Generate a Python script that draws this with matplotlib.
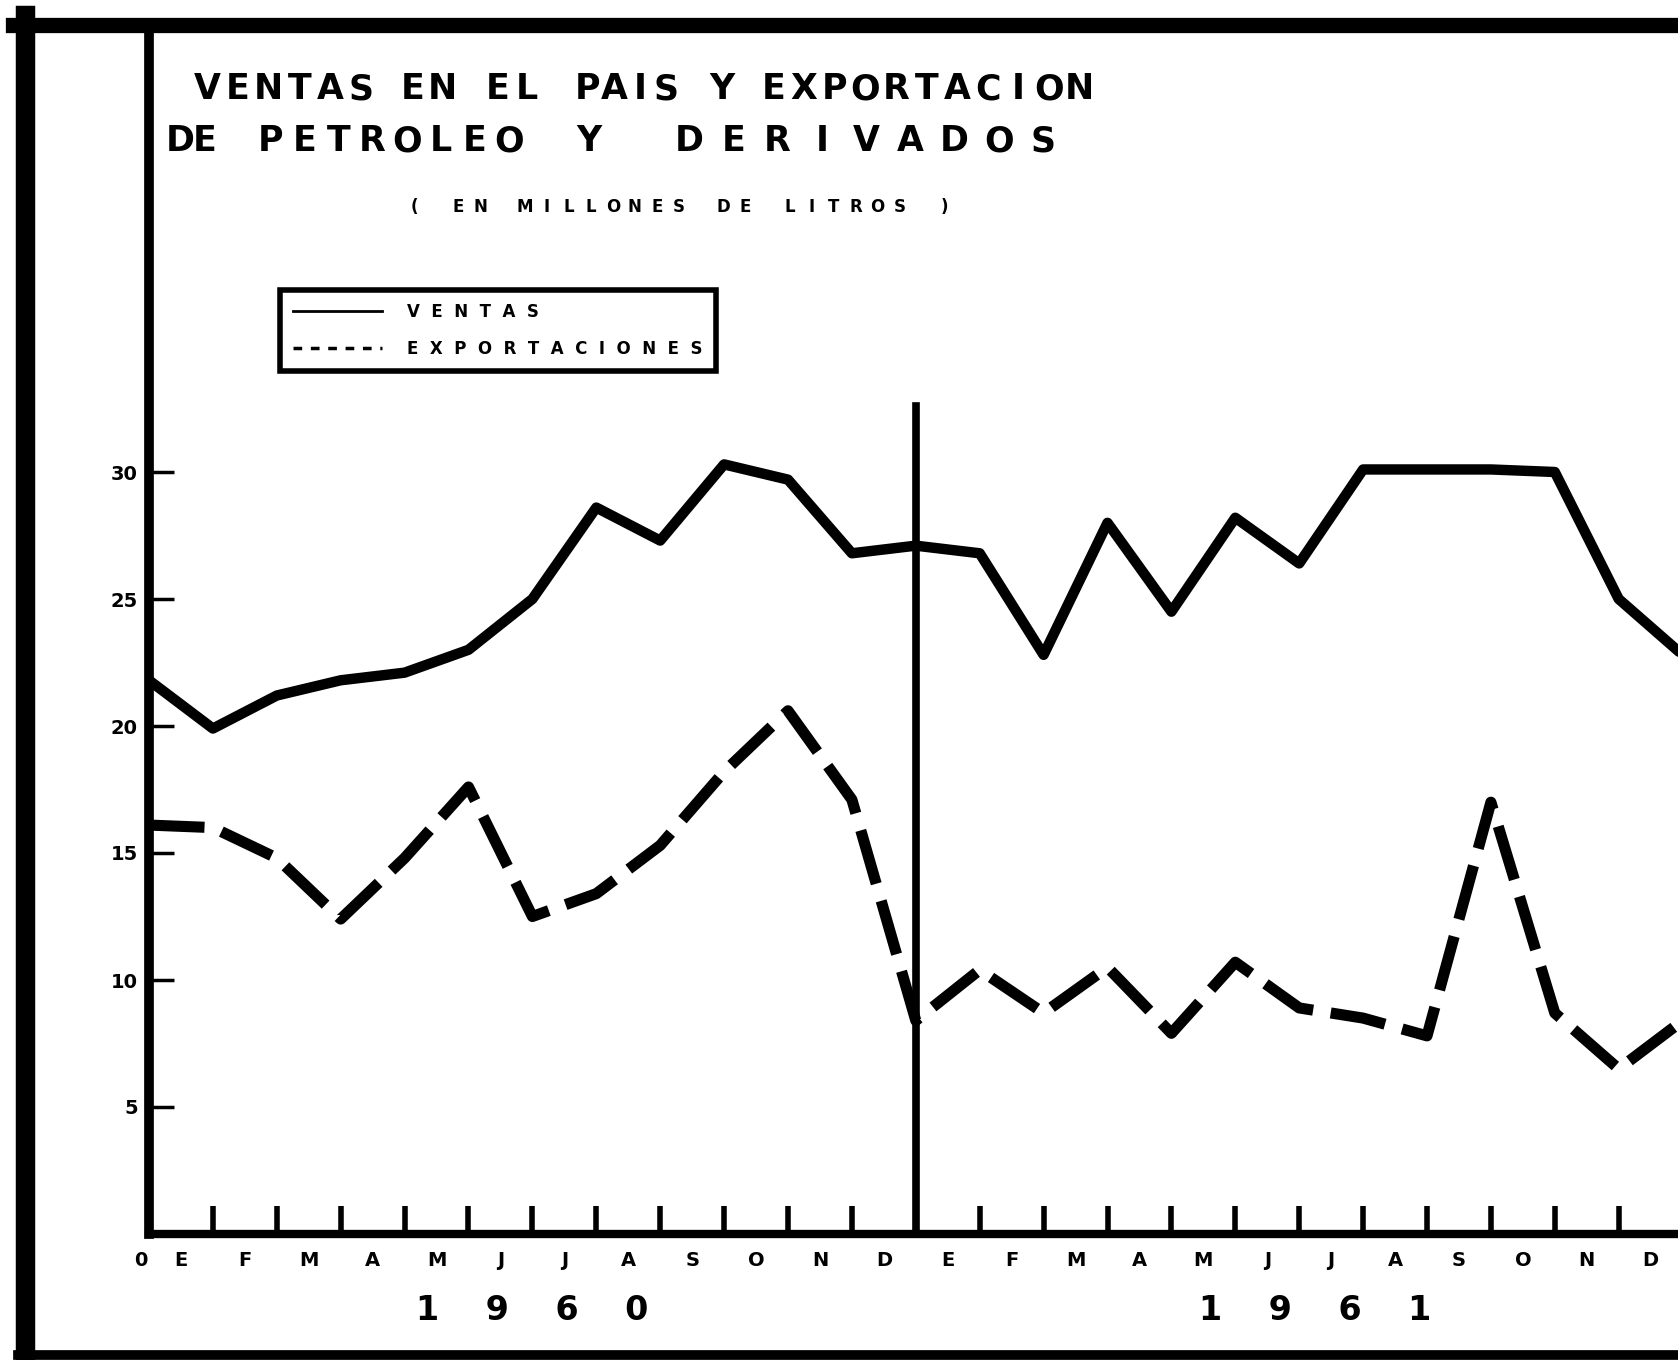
# ===============================
# Ventas en el pais y exportacion de petroleo y derivados (1960-1961)
# ===============================
import matplotlib
matplotlib.use("Agg")
import matplotlib.pyplot as plt
from matplotlib.lines import Line2D


# ===============================
# Datos (millones de litros)
# ===============================
meses = ["E", "F", "M", "A", "M", "J", "J", "A", "S", "O", "N", "D"]
anios = ["1960", "1961"]

ventas = [21.8, 19.9, 21.2, 21.8, 22.1, 23.0, 25.0, 28.6, 27.3, 30.3, 29.7, 26.8,
          27.1, 26.8, 22.8, 28.0, 24.5, 28.2, 26.4, 30.1, 30.1, 30.1, 30.0, 25.0, 22.8]
exportaciones = [16.1, 16.0, 14.8, 12.4, 14.8, 17.6, 12.5, 13.4, 15.3, 18.2, 20.6, 17.1,
                 8.4, 10.4, 8.7, 10.5, 7.9, 10.7, 8.9, 8.5, 7.8, 17.0, 8.7, 6.5, 8.4]

y_ticks = [5, 10, 15, 20, 25, 30]
division = 12          # comienzo de 1961
division_top = 32.6    # altura de la linea divisoria
centro_anio = [6.0, 18.25]


# ===============================
# Figura y ejes (coordenadas en pixeles de la imagen)
# ===============================
W, H = 1678, 1360
fig = plt.figure(figsize=(W / 100, H / 100), dpi=100)

x0_px, base_px, top_px = 149, 1234, 32
px_mes, px_unidad = 63.9, 25.4
n = len(ventas)

ax = fig.add_axes([x0_px / W, (H - base_px) / H,
                   (n - 1) * px_mes / W, (base_px - top_px) / H])
ax.set_xlim(0, n - 1)
ax.set_ylim(0, (base_px - top_px) / px_unidad)

x = list(range(n))
ax.plot(x, ventas, color="black", lw=7.5,
        solid_joinstyle="round", solid_capstyle="round")
ax.plot(x, exportaciones, color="black", lw=8, linestyle=(0, (5, 1.6)))

ax.axvline(division, ymin=0, ymax=division_top / ax.get_ylim()[1],
           color="black", lw=5.5)

# ===============================
# Ejes, marcas y etiquetas
# ===============================
for s in ["top", "right"]:
    ax.spines[s].set_visible(False)
ax.spines["left"].set_linewidth(7)
ax.spines["bottom"].set_linewidth(6)

ax.set_xticks(range(1, n))
ax.set_xticks([k + 0.5 for k in range(n - 1)], minor=True)
ax.set_xticklabels(meses * len(anios), minor=True)
ax.tick_params(axis="x", which="major", direction="in", length=20, width=4,
               labelbottom=False)
ax.tick_params(axis="x", which="minor", length=0, pad=12, labelsize=14)

ax.set_yticks(y_ticks)
ax.tick_params(axis="y", direction="in", length=18, width=2.5, labelsize=14, pad=8)

for lab in ax.get_xticklabels(minor=True) + ax.get_yticklabels():
    lab.set_fontweight("bold")

ax.annotate("0", xy=(0, 0), xytext=(-6, -19), textcoords="offset points",
            ha="center", va="center", fontsize=14, fontweight="bold",
            annotation_clip=False)

for a, c in zip(anios, centro_anio):
    ax.annotate("    ".join(a), xy=(c, 0), xytext=(0, -55),
                textcoords="offset points", ha="center", va="center",
                fontsize=24, fontweight="bold", annotation_clip=False)


# ===============================
# Titulo con letras espaciadas
# ===============================
def spaced(text, xa, xb, y, size):
    step = (xb - xa) / len(text)
    for i, ch in enumerate(text):
        fig.text((xa + step * (i + 0.5)) / W, 1 - y / H, ch,
                 ha="center", va="center", fontsize=size, fontweight="bold")


linea1 = [("VENTAS", 192, 376), ("EN", 397, 458), ("EL", 483, 541),
          ("PAIS", 575, 679), ("Y", 706, 737), ("EXPORTACION", 758, 1095)]
linea2 = [("DE", 168, 217), ("PETROLEO", 253, 526), ("Y", 578, 599),
          ("DERIVADOS", 667, 1065)]
for palabra, xa, xb in linea1:
    spaced(palabra, xa, xb, 89, 25)
for palabra, xa, xb in linea2:
    spaced(palabra, xa, xb, 141, 25)
spaced("( EN MILLONES DE LITROS )", 403, 955, 207, 12)


# ===============================
# Leyenda
# ===============================
h_ventas = Line2D([], [], color="black", lw=2)
h_export = Line2D([], [], color="black", lw=2.5, linestyle=(0, (2.5, 2.5)))
leg = fig.legend([h_ventas, h_export],
                 ["  ".join("VENTAS"), "  ".join("EXPORTACIONES")],
                 loc="upper left", bbox_to_anchor=(280 / W, 1 - 290 / H),
                 frameon=True, fancybox=False, edgecolor="black", framealpha=1,
                 handlelength=5.3, handletextpad=1.5, borderpad=0.8,
                 labelspacing=1.1, borderaxespad=0,
                 prop=dict(weight="bold", size=12))
leg.get_frame().set_linewidth(4)


# ===============================
# Marco del documento
# ===============================
fig.add_artist(Line2D([13 / W, 1], [1 - 25 / H, 1 - 25 / H], color="black", lw=11))
fig.add_artist(Line2D([25 / W, 25 / W], [1 - 15 / H, 0], color="black", lw=14))
fig.add_artist(Line2D([18 / W, 1], [5 / H, 5 / H], color="black", lw=7))

fig.savefig("out.png", dpi=100, facecolor="white")
